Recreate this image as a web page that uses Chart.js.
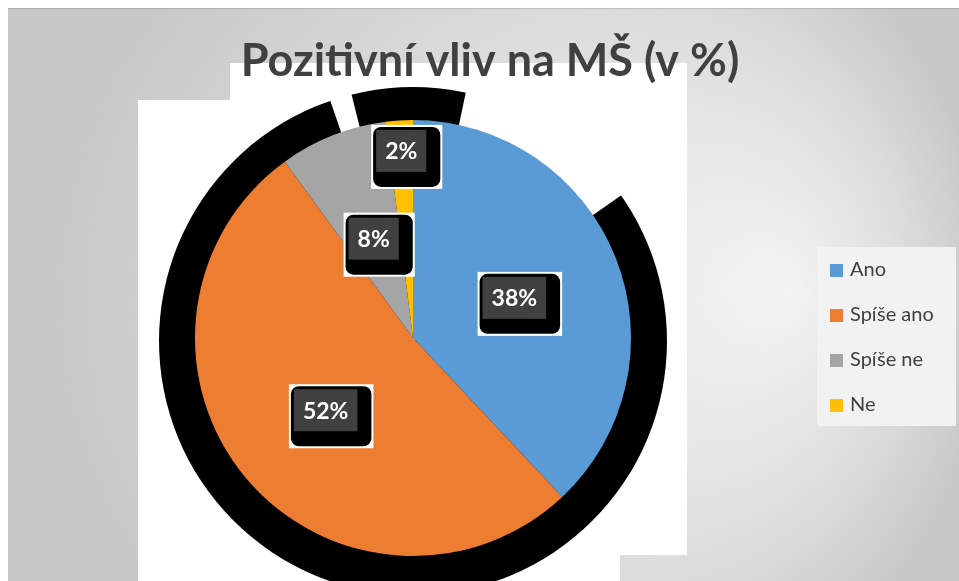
<!DOCTYPE html>
<html>
<head>
<meta charset="utf-8">
<script src="https://cdn.jsdelivr.net/npm/chart.js@4.4.1/dist/chart.umd.min.js"></script>
<style>
html, body { margin: 0; padding: 0; background: #fff; }
</style>
</head>
<body>
<canvas id="vlivMS" width="959" height="581"></canvas>
<script>
const kategorie = ['Ano', 'Spíše ano', 'Spíše ne', 'Ne'];
const hodnoty = [38, 52, 8, 2];
const popisky = ['38%', '52%', '8%', '2%'];
const barvy = ['#5b9bd5', '#ed7d31', '#a5a5a5', '#ffc000'];
const nadpis = 'Pozitivní vliv na MŠ (v %)';

// how far from the centre each label sits (fraction of radius)
const poziceStitku = [0.5, 0.52, 0.49, 0.86];

const pozadi = {
    id: 'pozadi',
    beforeDraw(chart) {
        const ctx = chart.ctx;
        const w = chart.width, h = chart.height;
        ctx.save();
        ctx.fillStyle = '#fff';
        ctx.fillRect(0, 0, w, h);
        const g = ctx.createRadialGradient(790, 290, 0, 520, 300, 470);
        g.addColorStop(0, '#f3f3f3');
        g.addColorStop(0.55, '#dedede');
        g.addColorStop(1, '#c8c8c8');
        ctx.fillStyle = g;
        ctx.fillRect(8, 8, w - 8, h - 8);
        ctx.fillStyle = 'rgba(0,0,0,0.12)';
        ctx.fillRect(8, 8, w - 8, 1);

        // white panel behind the pie
        ctx.beginPath();
        ctx.moveTo(230, 63);
        ctx.lineTo(687, 63);
        ctx.lineTo(687, 555);
        ctx.lineTo(620, 555);
        ctx.lineTo(620, h);
        ctx.lineTo(138, h);
        ctx.lineTo(138, 100);
        ctx.lineTo(230, 100);
        ctx.closePath();
        ctx.fillStyle = '#fff';
        ctx.fill();
        ctx.clip();

        // dark shadow round the pie, broken at the upper right
        const arc = chart.getDatasetMeta(0).data[0];
        const R = arc.outerRadius + 36;
        const cy = arc.y + 3;
        ctx.beginPath();
        ctx.arc(arc.x, cy, R, 0, Math.PI * 2);
        ctx.fillStyle = '#000';
        ctx.fill();
        ctx.fillStyle = '#fff';
        [[-78, -35], [-109, -104]].forEach(([a0, a1]) => {
            ctx.beginPath();
            ctx.moveTo(arc.x, cy);
            ctx.arc(arc.x, cy, R + 2, a0 * Math.PI / 180, a1 * Math.PI / 180);
            ctx.closePath();
            ctx.fill();
        });
        ctx.restore();
    }
};

const stitky = {
    id: 'stitky',
    afterDatasetsDraw(chart) {
        const ctx = chart.ctx;
        ctx.save();
        ctx.font = 'bold 23px Lato';
        ctx.textAlign = 'center';
        ctx.textBaseline = 'middle';
        chart.getDatasetMeta(0).data.forEach((arc, i) => {
            const mid = (arc.startAngle + arc.endAngle) / 2;
            const r = arc.outerRadius * poziceStitku[i];
            const x = arc.x + Math.cos(mid) * r;
            const y = arc.y + Math.sin(mid) * r;
            const tw = ctx.measureText(popisky[i]).width;
            const il = x - tw / 2 - 9, it = y - 21, iw = tw + 18, ih = 42;
            // white frame
            ctx.fillStyle = '#fff';
            ctx.fillRect(il - 5, it - 5, iw + 21, ih + 22);
            // black rounded box
            ctx.beginPath();
            ctx.roundRect(il - 3, it - 3, iw + 17, ih + 18, 8);
            ctx.fillStyle = '#000';
            ctx.fill();
            // inner dark box
            ctx.fillStyle = '#404040';
            ctx.fillRect(il, it, iw, ih);
            ctx.fillStyle = '#4c4c4c';
            for (let dx = 4; dx < iw; dx += 7) {
                for (let dy = 4; dy < ih; dy += 7) {
                    ctx.fillRect(il + dx, it + dy, 1, 1);
                }
            }
            ctx.fillStyle = '#fff';
            ctx.fillText(popisky[i], x, y + 1);
        });
        ctx.restore();
    }
};

const popis = {
    id: 'popis',
    afterDraw(chart) {
        const ctx = chart.ctx;
        ctx.save();
        // title
        ctx.fillStyle = '#404040';
        ctx.font = 'bold 45px Lato';
        ctx.textAlign = 'center';
        ctx.textBaseline = 'alphabetic';
        ctx.fillText(nadpis, 490, 76);

        // legend
        ctx.fillStyle = '#f2f2f2';
        ctx.fillRect(817, 247, 139, 179);
        ctx.font = '20px Lato';
        ctx.textAlign = 'left';
        ctx.textBaseline = 'middle';
        kategorie.forEach((k, i) => {
            const y = 270 + i * 45;
            ctx.fillStyle = barvy[i];
            ctx.fillRect(830, y - 6, 13, 13);
            ctx.fillStyle = '#404040';
            ctx.fillText(k, 850, y);
        });
        ctx.restore();
    }
};

const vlivMS = document.getElementById('vlivMS').getContext('2d');
const myChart = new Chart(vlivMS, {
    type: 'pie',
    data: {
        labels: kategorie,
        datasets: [{
            data: hodnoty,
            backgroundColor: barvy,
            borderWidth: 0
        }]
    },
    options: {
        responsive: false,
        animation: false,
        devicePixelRatio: 1,
        layout: {
            padding: { left: 195, right: 328, top: 120, bottom: 25 }
        },
        plugins: {
            legend: { display: false },
            tooltip: { enabled: false }
        }
    },
    plugins: [pozadi, stitky, popis]
});
</script>
</body>
</html>
